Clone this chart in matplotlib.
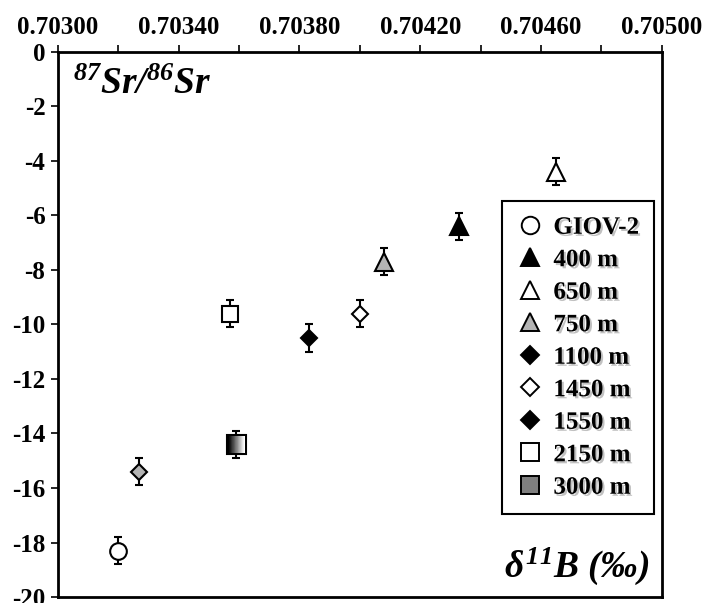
import numpy as np
import matplotlib
matplotlib.use('Agg')
import matplotlib.pyplot as plt
import matplotlib.patheffects as pe
from matplotlib.lines import Line2D
from matplotlib.offsetbox import OffsetImage, AnnotationBbox

plt.rcParams['font.family'] = 'Liberation Serif'
plt.rcParams['font.weight'] = 'bold'
plt.rcParams['axes.unicode_minus'] = False
plt.rcParams['mathtext.fontset'] = 'custom'
plt.rcParams['mathtext.rm'] = 'Liberation Serif:bold:italic'
plt.rcParams['mathtext.it'] = 'Liberation Serif:bold:italic'
plt.rcParams['mathtext.bf'] = 'Liberation Serif:bold:italic'

# data
labels = ['GIOV-2', '400 m', '650 m', '750 m', '1100 m', '1450 m',
          '1550 m', '2150 m', '3000 m']
sr = [0.70320, 0.70433, 0.70465, 0.70408, 0.70383, 0.70400,
      0.70327, 0.70357, 0.70359]
d11b = [-18.3, -6.4, -4.4, -7.7, -10.5, -9.6, -15.4, -9.6, -14.4]
err = [0.5, 0.5, 0.5, 0.5, 0.5, 0.5, 0.5, 0.5, 0.5]

markers = ['o', '^', '^', '^', 'D', 'D', 'D', 's', 's']
faces = ['white', 'black', 'white', '#b4b4b4', 'black', 'white',
         '#b4b4b4', 'white', 'gradient']
legend_faces = ['white', 'black', 'white', '#b4b4b4', 'black', 'white',
                'black', 'white', '#808080']
sizes = {'o': 12, '^': 12.5, 'D': 8.5, 's': 12}

fig = plt.figure(figsize=(7.07, 6.03), dpi=100)
ax = fig.add_axes([0.082, 0.0099, 0.854, 0.904])

ax.errorbar(sr, d11b, yerr=err, fmt='none', ecolor='black',
            elinewidth=1.5, capsize=3, capthick=1.5, zorder=2)

grad = np.tile(np.linspace(0.0, 1.0, 12), (12, 1))
for i in range(len(sr)):
    if faces[i] == 'gradient':
        im = OffsetImage(grad, cmap='gray', norm=plt.Normalize(0, 1), zoom=1)
        ab = AnnotationBbox(im, (sr[i], d11b[i]), frameon=True, pad=0.08,
                            bboxprops=dict(edgecolor='black', lw=1.5,
                                           facecolor='white'),
                            zorder=4)
        ax.add_artist(ab)
    else:
        ax.plot(sr[i], d11b[i], marker=markers[i], ms=sizes[markers[i]],
                mfc=faces[i], mec='black', mew=1.5, ls='none', zorder=4)

ax.set_xlim(0.703, 0.705)
ax.set_ylim(-20, 0)
ax.xaxis.tick_top()
ax.set_xticks(np.arange(0.703, 0.70501, 0.0004))
ax.set_xticks(np.arange(0.7032, 0.705, 0.0004), minor=True)
ax.set_xticklabels(['%.5f' % v for v in np.arange(0.703, 0.70501, 0.0004)])
ax.set_yticks(np.arange(-20, 1, 2))
ax.tick_params(axis='both', which='both', direction='out', length=5,
               width=1.2, labelsize=18, pad=4)
ax.tick_params(axis='x', which='minor', top=True)
for lab in ax.get_xticklabels() + ax.get_yticklabels():
    lab.set_fontweight('bold')
for sp in ax.spines.values():
    sp.set_linewidth(2)

ax.text(0.025, 0.923, r'$^{87}$Sr/$^{86}$Sr', transform=ax.transAxes,
        fontsize=27, fontweight='bold', fontstyle='italic', va='baseline')
ax.text(0.98, 0.037, r'$\delta^{11}$B (‰)', transform=ax.transAxes,
        fontsize=27, fontweight='bold', fontstyle='italic', va='baseline',
        ha='right')

handles = [Line2D([], [], marker=m, ms=sizes[m] * 1.05, mfc=f, mec='black',
                  mew=1.4, ls='none') for m, f in zip(markers, legend_faces)]
leg = ax.legend(handles, labels, loc='upper right',
                bbox_to_anchor=(0.987, 0.727), borderaxespad=0,
                fancybox=False, edgecolor='black', framealpha=1,
                prop=dict(family='Liberation Serif', weight='bold', size=18),
                handlelength=1.0, handletextpad=0.45, labelspacing=0.38,
                borderpad=0.6)
leg.get_frame().set_linewidth(1.5)
for t in leg.get_texts():
    t.set_path_effects([pe.withSimplePatchShadow(offset=(1.5, -1.5),
                                                 shadow_rgbFace='0.6',
                                                 alpha=0.6)])

fig.savefig('out.png', dpi=100)
